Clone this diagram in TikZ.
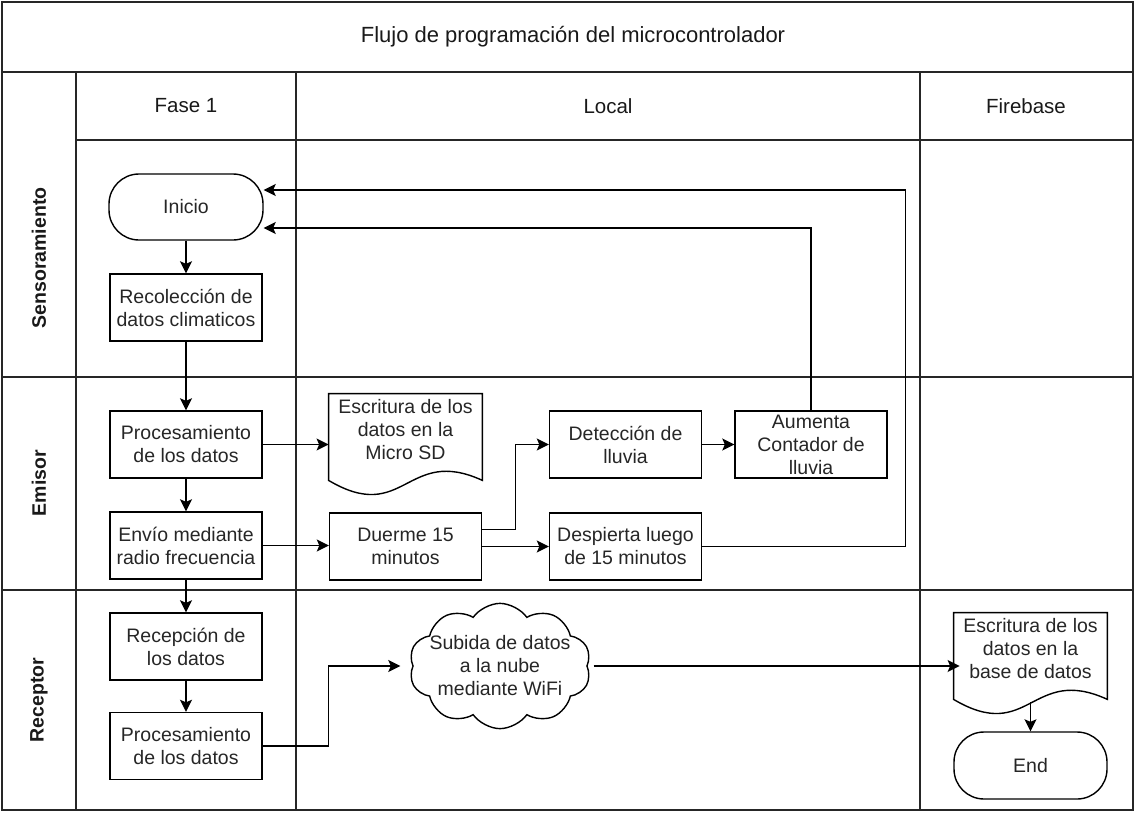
\documentclass[tikz,border=0pt]{standalone}
\usepackage{fontspec}
\setmainfont{Liberation Sans}
\usetikzlibrary{arrows.meta,shapes.symbols,calc}

\begin{document}
\begin{tikzpicture}[x=1pt, y=-1pt, thick,
    every node/.style={font=\fontsize{19.5}{23}\selectfont, text=black!85, align=center},
    lane/.style={line width=1.5pt, black!85},
    caja/.style={draw, line width=1.4pt, minimum width=152pt, minimum height=67pt, inner sep=0pt},
    term/.style={caja, rounded corners=30pt, minimum width=154pt, minimum height=66pt},
    hoja/.style={minimum width=153pt, minimum height=72pt, inner sep=0pt},
    nube/.style={draw, line width=1.4pt, cloud, cloud puffs=10, cloud puff arc=110, aspect=1.7,
                 minimum width=160pt, minimum height=86pt, inner sep=-9pt},
    cabeza/.style={font=\fontsize{20.5}{24}\selectfont, text=black!90},
    carril/.style={rotate=90, font=\fontsize{19.5}{23}\selectfont\bfseries, text=black!90},
    flecha/.style={line width=1.4pt, -{Stealth[length=12pt, width=12pt, inset=2.5pt]}}]
  \useasboundingbox (0,0) rectangle (1135,812);

  % carriles
  \coordinate (TL) at (2,2);
  \coordinate (BR) at (1133,810);
  \draw[lane] (TL) rectangle (BR);
  \draw[lane] (2,72) -- (1133,72);
  \draw[lane] (76,140) -- (1133,140);
  \draw[lane] (2,377) -- (1133,377);
  \draw[lane] (2,590) -- (1133,590);
  \draw[lane] (76,72) -- (76,810);
  \draw[lane] (296,72) -- (296,810);
  \draw[lane] (920,72) -- (920,810);

  \node[font=\fontsize{22}{26}\selectfont, text=black!90] (titulo) at (573,37) {Flujo de programación del microcontrolador};
  \node[cabeza] (fase) at (186,106) {Fase 1};
  \node[cabeza] (local) at (608,106) {Local};
  \node[cabeza] (fire) at (1026,106) {Firebase};
  \node[carril] (sens) at (39,258) {Sensoramiento};
  \node[carril] (emi) at (39,483) {Emisor};
  \node[carril] (recep) at (39,700) {Receptor};

  % fase 1
  \node[term] (ini) at (186,207) {Inicio};
  \node[caja] (rec) at (186,307.5) {Recolección de\\datos climaticos};
  \node[caja] (proc) at (186,444.5) {Procesamiento\\de los datos};
  \node[caja] (env) at (186,545.5) {Envío mediante\\radio frecuencia};
  \node[caja] (rcp) at (186,646.5) {Recepción de\\los datos};
  \node[caja] (proc2) at (186,746) {Procesamiento\\de los datos};

  % local
  \node[hoja] (sd) at (405.5,430) {Escritura de los\\datos en la\\Micro SD};
  \draw[line width=1.4pt] (sd.north west) -- (sd.north east) -- ([yshift=-14pt]sd.south east)
    .. controls +(-76,-35) and +(76,45) .. ([yshift=-14pt]sd.south west) -- cycle;
  \node[caja] (det) at (625.5,444.5) {Detección de\\lluvia};
  \node[caja] (duer) at (405.5,546.5) {Duerme 15\\minutos};
  \node[caja] (desp) at (625.5,546.5) {Despierta luego\\de 15 minutos};
  \node[caja] (aum) at (811,444.5) {Aumenta\\Contador de\\lluvia};
  \node[nube] (wifi) at (500,666) {Subida de datos\\a la nube\\mediante WiFi};

  % firebase
  \node[hoja] (bd) at (1030.5,649) {Escritura de los\\datos en la\\base de datos};
  \draw[line width=1.4pt] (bd.north west) -- (bd.north east) -- ([yshift=-14pt]bd.south east)
    .. controls +(-76,-35) and +(76,45) .. ([yshift=-14pt]bd.south west) -- cycle;
  \node[term, minimum width=153pt, minimum height=67pt] (fin) at (1030.5,765.5) {End};

  % conexiones
  \draw[flecha] (ini) -- (rec);
  \draw[flecha] (rec) -- (proc);
  \draw[flecha] (proc) -- (env);
  \draw[flecha] (env) -- (rcp);
  \draw[flecha] (rcp) -- (proc2);
  \draw[flecha] (proc.east) -- (proc.east -| sd.west);
  \draw[flecha] (env.east) -- (env.east -| duer.west);
  \draw[flecha] ([yshift=17pt]duer.east) -- ++(33,0) |- (det.west);
  \draw[flecha] (duer) -- (desp);
  \draw[flecha] (det) -- (aum);
  \draw[flecha] (aum.north) |- ([yshift=-21pt]ini.east);
  \draw[flecha] (desp.east) -- ++(203,0) |- ([yshift=17pt]ini.east);
  \draw[flecha] (proc2.east) -- ++(66,0) |- ([xshift=-12pt]wifi.west);
  \draw[flecha] ([xshift=6pt]wifi.east) -- ([xshift=6pt]wifi.east -| bd.west);
  \draw[flecha] ([yshift=-17pt]bd.south) -- (fin.north);
\end{tikzpicture}
\end{document}
